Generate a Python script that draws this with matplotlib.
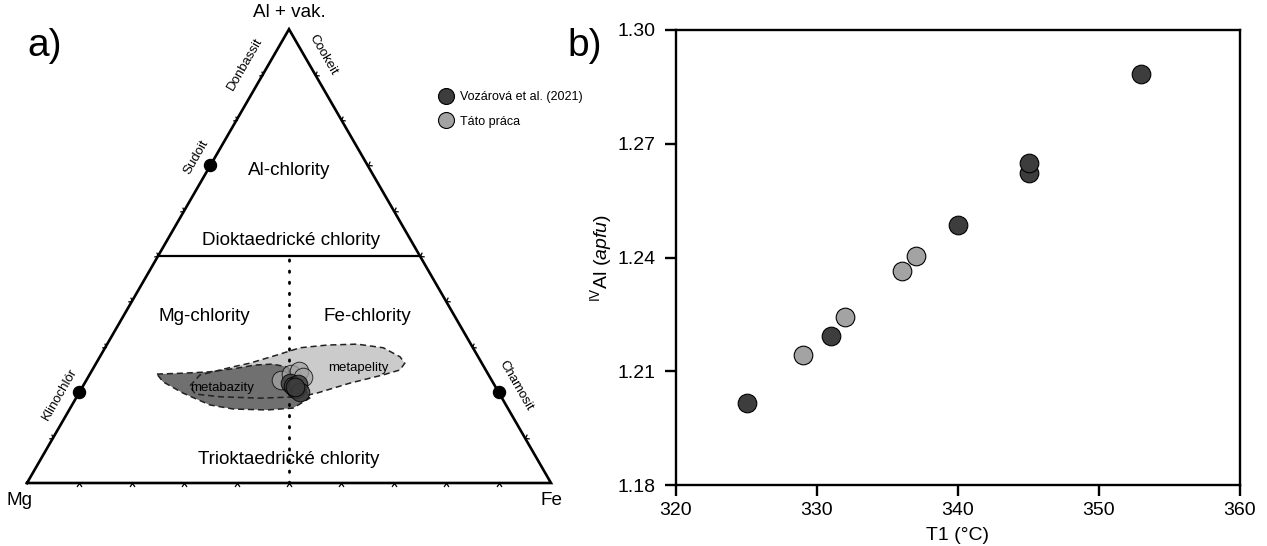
import numpy as np
import matplotlib
matplotlib.use("Agg")
import matplotlib.pyplot as plt
from matplotlib.markers import MarkerStyle
from matplotlib.path import Path
from matplotlib.transforms import Affine2D
from matplotlib.lines import Line2D

plt.rcParams['font.family'] = ['Liberation Sans', 'DejaVu Sans']
plt.rcParams['mathtext.fontset'] = 'custom'
plt.rcParams['mathtext.rm'] = 'Liberation Sans'
plt.rcParams['mathtext.it'] = 'Liberation Sans:italic'

# ---- ternary data (Al + vak., Fe, Mg in %; Mg = 100 - Al - Fe) ----
vozarova_al = [22.0, 21.4, 20.7, 21.8, 20.1, 21.2]
vozarova_fe = [39.2, 40.1, 41.0, 40.8, 42.1, 40.6]
tato_al = [22.7, 24.0, 24.7, 23.4]
tato_fe = [37.1, 38.4, 39.6, 41.0]

# field outlines
metapelity_al = [21.4, 23.8, 25.6, 26.4, 28.2, 29.8, 30.4, 30.6, 29.8, 27.8,
                 26.4, 24.9, 23.8, 22.0, 19.8, 19.0, 18.7, 19.0, 19.6]
metapelity_fe = [20.4, 21.1, 26.5, 29.3, 33.6, 37.2, 42.1, 47.7, 53.1, 57.3,
                 58.9, 58.7, 56.0, 50.6, 45.4, 42.6, 35.1, 27.4, 22.3]
metabazity_al = [24.0, 24.2, 24.5, 25.3, 26.0, 26.2, 25.6, 22.7, 18.7, 16.5,
                 16.1, 16.3, 17.2, 19.8, 22.3]
metabazity_fe = [12.8, 17.7, 22.7, 27.4, 30.5, 33.7, 36.8, 40.8, 44.6, 42.5,
                 37.8, 31.2, 26.3, 19.9, 14.8]

# end members on the triangle sides
end_names = ['Klinochlór', 'Sudoit', 'Chamosit']
end_al = [20, 70, 20]
end_fe = [0, 0, 80]

# ---- T1 vs IV-Al ----
t1_voz = [325, 331, 340, 345, 345, 353]
al_voz = [1.2016, 1.2193, 1.2487, 1.2623, 1.2649, 1.2885]
t1_tato = [329, 332, 336, 337]
al_tato = [1.2144, 1.2244, 1.2365, 1.2404]

c_dark = '#3d3d3d'
c_light = '#a3a3a3'


def tern(al, fe):
    al = np.asarray(al, float) / 100.0
    fe = np.asarray(fe, float) / 100.0
    return fe + al / 2.0, al * np.sqrt(3) / 2.0


fig = plt.figure(figsize=(12.67, 5.46), dpi=100)

# ---------------- a) ternary ----------------
ax = fig.add_axes([0, 0, 600 / 1267, 1])
ax.set_xlim(-27 / 524, -27 / 524 + 600 / 524)
ax.set_ylim(-63 / 524, -63 / 524 + 546 / 524)
ax.axis('off')

h = np.sqrt(3) / 2
ax.plot([0, 1, 0.5, 0], [0, 0, h, 0], color='black', lw=1.9, zorder=3,
        solid_joinstyle='miter')
ax.plot([0.25, 0.75], [h / 2, h / 2], color='black', lw=1.6, zorder=3)
ax.plot([0.5, 0.5], [0, h / 2], color='black', lw=2.0, zorder=3,
        linestyle=(0, (0.5, 3.5)), dash_capstyle='round')

# small chevron ticks on the sides
chev = Path([(-1, -1.4), (0, 0), (1, -1.4)], [Path.MOVETO, Path.LINETO, Path.LINETO])
frac = np.arange(1, 10) / 10.0
sides = [
    (frac, np.zeros_like(frac), 0),
    (frac / 2, frac * h, 240),
    (1 - frac / 2, frac * h, 120),
]
for sx, sy, rot in sides:
    m = MarkerStyle(chev, fillstyle='none', transform=Affine2D().rotate_deg(rot))
    ax.plot(sx, sy, linestyle='none', marker=m, markersize=5,
            markeredgecolor='black', markeredgewidth=0.9, zorder=3)

# fields
px, py = tern(metapelity_al, metapelity_fe)
bx, by = tern(metabazity_al, metabazity_fe)
ax.fill(px, py, color='#cbcbcb', zorder=1, lw=0)
ax.fill(bx, by, color='#707070', zorder=1.5, lw=0)
ax.fill(bx, by, facecolor='none', edgecolor='#222222', lw=1.1,
        linestyle=(0, (4, 2.5)), zorder=2)
ax.fill(px, py, facecolor='none', edgecolor='#222222', lw=1.1,
        linestyle=(0, (4, 2.5)), zorder=2)

ex, ey = tern(end_al, end_fe)
ax.scatter(ex, ey, s=75, color='black', zorder=4)

tx, ty = tern(tato_al, tato_fe)
vx, vy = tern(vozarova_al, vozarova_fe)
ax.scatter(tx, ty, s=180, color=c_light, edgecolor='black', lw=0.7, alpha=0.75, zorder=5)
ax.scatter(vx, vy, s=180, color=c_dark, edgecolor='black', lw=0.7, alpha=0.85, zorder=6)

# labels
fs = 13.6
ax.text(0.5, h + 0.015, 'Al + vak.', ha='center', va='bottom', fontsize=fs)
ax.text(-0.015, -0.033, 'Mg', ha='center', va='center', fontsize=fs)
ax.text(1.0, -0.033, 'Fe', ha='center', va='center', fontsize=fs)
ax.text(0.5, 0.596, 'Al-chlority', ha='center', va='center', fontsize=fs)
ax.text(0.503, 0.462, 'Dioktaedrické chlority', ha='center', va='center', fontsize=fs)
ax.text(0.338, (483 - 317) / 524, 'Mg-chlority', ha='center', va='center', fontsize=fs)
ax.text(0.650, (483 - 317) / 524, 'Fe-chlority', ha='center', va='center', fontsize=fs)
ax.text(0.5, (483 - 459) / 524, 'Trioktaedrické chlority', ha='center', va='center', fontsize=fs)
ax.text(0.632, (483 - 368) / 524, 'metapelity', ha='center', va='center', fontsize=9.5)
ax.text(0.372, (483 - 388) / 524, 'metabazity', ha='center', va='center', fontsize=9.5)

ax.text((60 - 27) / 524, (483 - 394) / 524, 'Klinochlór', rotation=60,
        ha='center', va='center', fontsize=9.5)
ax.text((196 - 27) / 524, (483 - 157) / 524, 'Sudoit', rotation=60,
        ha='center', va='center', fontsize=9.5)
ax.text((245 - 27) / 524, (483 - 64) / 524, 'Donbassit', rotation=60,
        ha='center', va='center', fontsize=9.5)
ax.text((323 - 27) / 524, (483 - 55) / 524, 'Cookeit', rotation=-60,
        ha='center', va='center', fontsize=9.5)
ax.text((516 - 27) / 524, (483 - 386) / 524, 'Chamosit', rotation=-60,
        ha='center', va='center', fontsize=9.5)

handles = [
    Line2D([], [], linestyle='none', marker='o', markersize=11.5,
           markerfacecolor=c_dark, markeredgecolor='black', markeredgewidth=0.8,
           label='Vozárová et al. (2021)'),
    Line2D([], [], linestyle='none', marker='o', markersize=11.5,
           markerfacecolor=c_light, markeredgecolor='black', markeredgewidth=0.8,
           label='Táto práca'),
]
fig.legend(handles=handles, loc='upper left', bbox_to_anchor=(440 / 1267, 1 - 91 / 546),
           frameon=False, fontsize=9, handlelength=1.0, handletextpad=0.6,
           borderpad=0, borderaxespad=0, labelspacing=1.0)

fig.text(45 / 1267, 1 - 46 / 546, 'a)', fontsize=28, ha='center', va='center')
fig.text(585 / 1267, 1 - 46 / 546, 'b)', fontsize=28, ha='center', va='center')

# ---------------- b) scatter ----------------
bx2 = fig.add_axes([676 / 1267, 61 / 546, 564 / 1267, 455 / 546])
bx2.scatter(t1_voz, al_voz, s=180, color=c_dark, edgecolor='black', lw=0.8, zorder=3)
bx2.scatter(t1_tato, al_tato, s=180, color=c_light, edgecolor='black', lw=0.8, zorder=3)
bx2.set_xlim(320, 360)
bx2.set_ylim(1.18, 1.30)
bx2.set_xticks([320, 330, 340, 350, 360])
bx2.set_yticks([1.18, 1.21, 1.24, 1.27, 1.30])
bx2.set_yticklabels(['1.18', '1.21', '1.24', '1.27', '1.30'])
for s in bx2.spines.values():
    s.set_linewidth(1.7)
bx2.tick_params(direction='out', length=8, width=1.7, labelsize=14, pad=7)
bx2.tick_params(axis='x', pad=4)
bx2.set_xlabel('T1 (°C)', fontsize=14, labelpad=6)
bx2.set_ylabel(r'$^{\mathrm{IV}}$Al ($\it{apfu}$)', fontsize=14, labelpad=2)

fig.savefig('out.png', dpi=100)
